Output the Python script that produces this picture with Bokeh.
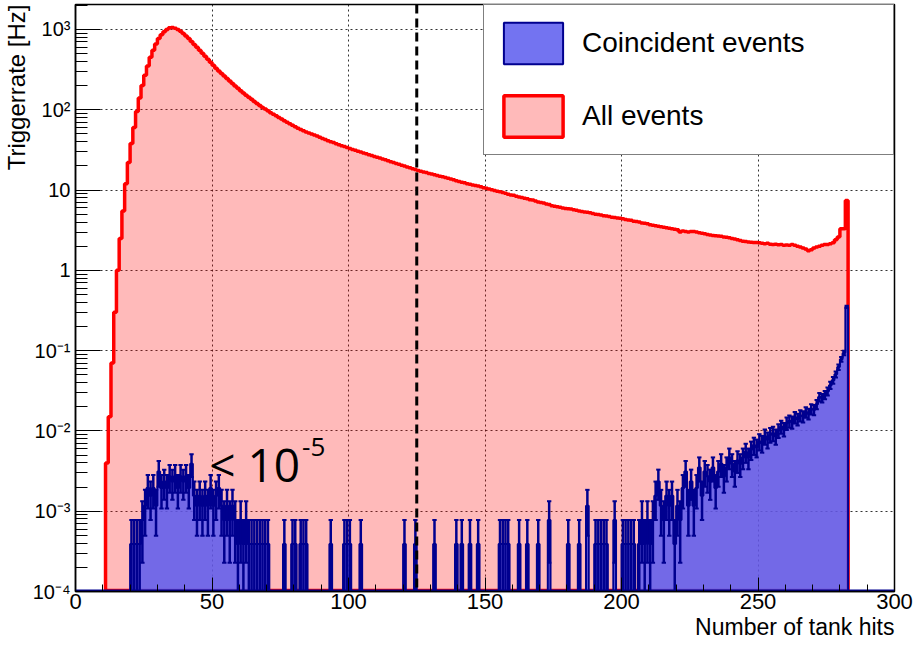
import numpy as np
from bokeh.plotting import figure
from bokeh.models import (Range1d, Span, Label, Legend, LegendItem, FixedTicker,
                          CustomJSTickFormatter, Title)
from bokeh.embed import file_html
from bokeh.resources import INLINE

# ---------------- data ----------------
first_bin = 11          # left edge of the first filled bin (Number of tank hits)
bin_width = 1

# "All events" trigger rate [Hz], bins 11..282
red_rate = [
    0.004, 0.015, 0.07, 0.3, 1.0, 2.5, 5.5, 12, 22, 38,
    60, 95, 140, 200, 270, 350, 450, 550, 660, 770,
    860, 940, 1000, 1050, 1060, 1040, 1000, 950, 890, 830,
    770, 710, 650, 600, 550, 505, 465, 425, 390, 358,
    330, 305, 283, 263, 245, 228, 212, 198, 185, 173,
    162, 152, 143, 135, 127, 120, 113, 107, 102, 97,
    92, 88, 84, 80, 76.5, 73, 70, 67, 64, 61.5,
    59, 57, 55, 53, 51.5, 50, 48.5, 47, 45.5, 44,
    42.5, 41, 40, 39, 37.8, 36.7, 35.7, 34.8, 33.9, 33,
    32.1, 31.3, 30.5, 29.8, 29.0, 28.3, 27.6, 26.9, 26.2, 25.6,
    25.0, 24.4, 23.8, 23.2, 22.6, 22.0, 21.5, 21.0, 20.4, 19.9,
    19.4, 18.9, 18.4, 18.0, 17.5, 17.1, 16.8, 16.5, 16.1, 15.8,
    15.5, 15.2, 14.9, 14.6, 14.3, 14.0, 13.7, 13.4, 13.1, 12.8,
    12.5, 12.3, 12.0, 11.8, 11.6, 11.4, 11.2, 11.0, 10.7, 10.5,
    10.3, 10.1, 9.9, 9.7, 9.5, 9.3, 9.1, 8.9, 8.7, 8.6,
    8.4, 8.2, 8.1, 7.9, 7.8, 7.6, 7.5, 7.3, 7.1, 7.0,
    6.9, 6.7, 6.6, 6.4, 6.3, 6.2, 6.1, 6.0, 5.9, 5.85,
    5.8, 5.7, 5.6, 5.5, 5.4, 5.35, 5.3, 5.2, 5.1, 5.0,
    4.95, 4.9, 4.8, 4.75, 4.7, 4.6, 4.55, 4.5, 4.45, 4.4,
    4.3, 4.25, 4.2, 4.1, 4.05, 4.0, 3.9, 3.85, 3.8, 3.7,
    3.65, 3.6, 3.55, 3.5, 3.45, 3.4, 3.35, 3.3, 3.25, 3.2,
    3.0, 3.1, 3.05, 3.0, 3.05, 3.05, 3.0, 2.95, 2.9, 2.85,
    2.8, 2.75, 2.72, 2.7, 2.68, 2.65, 2.6, 2.58, 2.55, 2.5,
    2.45, 2.4, 2.35, 2.3, 2.28, 2.25, 2.24, 2.22, 2.22, 2.2,
    2.18, 2.15, 2.17, 2.12, 2.1, 2.12, 2.08, 2.1, 2.05, 2.07,
    2.05, 2.1, 2.05, 2.0, 1.95, 1.9, 1.85, 1.75, 1.8, 1.9,
    1.95, 2.0, 2.05, 2.1, 2.1, 2.15, 2.2, 2.4, 2.6, 3.3,
    3.3, 7.4,
]

# "Coincident events": number of events per bin, bins 11..282
blue_counts = [
    0, 0, 0, 0, 0, 0, 0, 0, 0, 1,
    1, 1, 1, 2, 3, 5, 4, 5, 3, 8,
    5, 6, 5, 7, 6, 7, 5, 7, 6, 7,
    5, 10, 4, 3, 4, 3, 4, 3, 5, 3,
    4, 5, 3, 2, 3, 2, 3, 2, 1, 2,
    1, 2, 1, 1, 1, 1, 1, 1, 1, 1,
    0, 0, 0, 0, 0, 1, 0, 0, 1, 1,
    0, 1, 1, 1, 0, 0, 0, 0, 0, 0,
    0, 0, 1, 0, 0, 0, 0, 1, 1, 1,
    0, 0, 0, 1, 0, 0, 0, 0, 0, 0,
    0, 0, 0, 0, 0, 0, 0, 0, 0, 1,
    0, 0, 0, 1, 0, 0, 0, 0, 0, 0,
    1, 0, 0, 0, 0, 0, 0, 0, 1, 0,
    1, 0, 0, 1, 0, 0, 1, 0, 0, 0,
    0, 0, 0, 0, 1, 1, 1, 1, 0, 0,
    0, 1, 0, 0, 1, 0, 0, 0, 1, 0,
    0, 0, 2, 0, 0, 0, 0, 0, 0, 1,
    0, 0, 0, 1, 0, 0, 3, 0, 0, 1,
    1, 1, 1, 1, 0, 0, 2, 0, 0, 1,
    1, 1, 1, 1, 0, 1, 2, 1, 2, 1,
    2, 4, 6, 3, 2, 4, 3, 4, 1, 3,
    2, 5, 8, 3, 6, 3, 5, 9, 4, 8,
    7, 6, 9, 5, 8, 10, 7, 9, 12, 10,
    8, 11, 10, 12, 14, 12, 15, 17, 16, 19,
    18, 22, 20, 23, 24, 22, 26, 29, 27, 32,
    34, 33, 38, 36, 40, 39, 44, 42, 48, 47,
    55, 68, 66, 72, 80, 95, 110, 130, 160, 200,
    240, 900,
]
rate_per_event = 3.9e-4   # Hz per coincident event

x_range_limits = [0, 300]
y_range_limits = [1e-4, 2048]
x_ticks = [0, 50, 100, 150, 200, 250, 300]
x_minor_ticks = list(range(0, 301, 10))
y_tick_exponents = [-4, -3, -2, -1, 0, 1, 2, 3]
cut_position = 125
legend_labels = ["Coincident events", "All events"]
x_title = "Number of tank hits"
y_title = "Triggerrate [Hz]"
note_main, note_exp = "< 10", "-5"

# ---------------- derived arrays ----------------
FLOOR = 1.03e-4   # empty bins drawn at the bottom of the frame (as ROOT does)
red = np.array(red_rate, dtype=float)
cnt = np.array(blue_counts, dtype=float)
blue = cnt * rate_per_event
blue_err = np.sqrt(cnt) * rate_per_event
n = len(red)
edges = first_bin + np.arange(n + 1) * bin_width
centers = 0.5 * (edges[:-1] + edges[1:])


def step_outline(vals, x_lo, x_hi):
    v = np.where(vals > 0, vals, FLOOR)
    xs = [float(x_lo), float(edges[0])]
    ys = [FLOOR, FLOOR]
    for i in range(n):
        xs += [float(edges[i]), float(edges[i + 1])]
        ys += [float(v[i]), float(v[i])]
    xs += [float(edges[-1]), float(x_hi)]
    ys += [FLOOR, FLOOR]
    return xs, ys


# ---------------- figure ----------------
FONT = "Liberation Sans"
p = figure(width=918, height=645, output_backend="svg", toolbar_location=None,
           y_axis_type="log",
           x_range=Range1d(*x_range_limits), y_range=Range1d(*y_range_limits),
           min_border_left=74, min_border_right=24, min_border_top=4, min_border_bottom=54)
p.background_fill_color = "white"
p.border_fill_color = "white"
p.outline_line_color = "black"
p.outline_line_width = 1.5

# axes (ROOT style: ticks inside)
p.xaxis.ticker = FixedTicker(ticks=x_ticks, minor_ticks=x_minor_ticks)
p.yaxis.ticker = FixedTicker(ticks=[10.0 ** k for k in y_tick_exponents],
                             minor_ticks=[m * 10.0 ** k for k in range(-4, 4) for m in range(2, 10)])
p.yaxis.formatter = CustomJSTickFormatter(code="""
const k = Math.round(Math.log10(tick));
if (k == 0) { return "1"; }
if (k == 1) { return "10"; }
const sup = {"-": "\u207B", "0": "\u2070", "1": "\u00B9", "2": "\u00B2", "3": "\u00B3",
             "4": "\u2074", "5": "\u2075", "6": "\u2076", "7": "\u2077", "8": "\u2078", "9": "\u2079"};
return "10" + String(k).split("").map(c => sup[c]).join("");
""")
for ax in (p.xaxis[0], p.yaxis[0]):
    ax.axis_line_color = "black"
    ax.axis_line_width = 1.5
    ax.major_tick_line_color = "black"
    ax.minor_tick_line_color = "black"
    ax.major_tick_out = 0
    ax.minor_tick_out = 0
    ax.major_label_text_font = FONT
    ax.major_label_text_color = "black"
p.xaxis.major_tick_in = 14
p.xaxis.minor_tick_in = 7
p.yaxis.major_tick_in = 25
p.yaxis.minor_tick_in = 12
p.xaxis.major_label_text_font_size = "22px"
p.xaxis.major_label_standoff = 2
p.yaxis.major_label_text_font_size = "20px"
p.yaxis.major_label_standoff = 5

# axis titles, right-aligned like ROOT
p.add_layout(Title(text=x_title, align="right", text_font=FONT, text_font_size="23px",
                   text_font_style="normal", text_color="black", standoff=0), "below")
p.add_layout(Title(text=y_title, align="right", text_font=FONT, text_font_size="24px",
                   text_font_style="normal", text_color="black", standoff=0), "left")

p.grid.grid_line_color = "black"
p.grid.grid_line_alpha = 0.8
p.grid.grid_line_dash = "2 3"
p.grid.grid_line_width = 1

# histograms
rx, ry = step_outline(red, edges[0], edges[-1])
red_r = p.patch(rx, ry, fill_color="#ff0000", fill_alpha=0.27,
                line_color="#ff0000", line_width=3.5)
bx, by = step_outline(blue, x_range_limits[0], x_range_limits[1])
blue_r = p.patch(bx, by, fill_color="#5a5aee", fill_alpha=0.85,
                 line_color="#00008f", line_width=2)

# error bars of the coincident events
nz = cnt > 0
cx = centers[nz]
lo = np.maximum(blue[nz] - blue_err[nz], 1e-7)
hi = blue[nz] + blue_err[nz]
p.segment(x0=cx, y0=lo, x1=cx, y1=hi, line_color="#00008f", line_width=2.5)
p.segment(x0=cx - 0.8, y0=hi, x1=cx + 0.8, y1=hi, line_color="#00008f", line_width=2)
lo_vis = lo > 1e-4
p.segment(x0=cx[lo_vis] - 0.8, y0=lo[lo_vis], x1=cx[lo_vis] + 0.8, y1=lo[lo_vis],
          line_color="#00008f", line_width=2)

# cut line
p.add_layout(Span(location=cut_position, dimension="height", line_color="black",
                  line_width=3, line_dash="9 5"))

# annotation "< 10^-5"
p.add_layout(Label(x=49.0, y=3.9e-3, text=note_main, text_font="Open Sans",
                   text_font_size="46px", text_color="black",
                   text_align="left", text_baseline="alphabetic"))
p.add_layout(Label(x=83.0, y=6.3e-3, text=note_exp, text_font="Open Sans",
                   text_font_size="26px", text_color="black",
                   text_align="left", text_baseline="alphabetic"))

# legend
legend = Legend(items=[LegendItem(label=legend_labels[0], renderers=[blue_r]),
                       LegendItem(label=legend_labels[1], renderers=[red_r])],
                location="top_right", margin=0, padding=12, spacing=21,
                glyph_width=74, glyph_height=52, label_standoff=12,
                label_width=299, label_height=52,
                label_text_font=FONT, label_text_font_size="28px",
                label_text_color="black",
                border_line_color="black", border_line_width=1.5,
                background_fill_color="white", background_fill_alpha=1.0)
p.add_layout(legend)

open("out.html", "w").write(file_html(p, INLINE))
